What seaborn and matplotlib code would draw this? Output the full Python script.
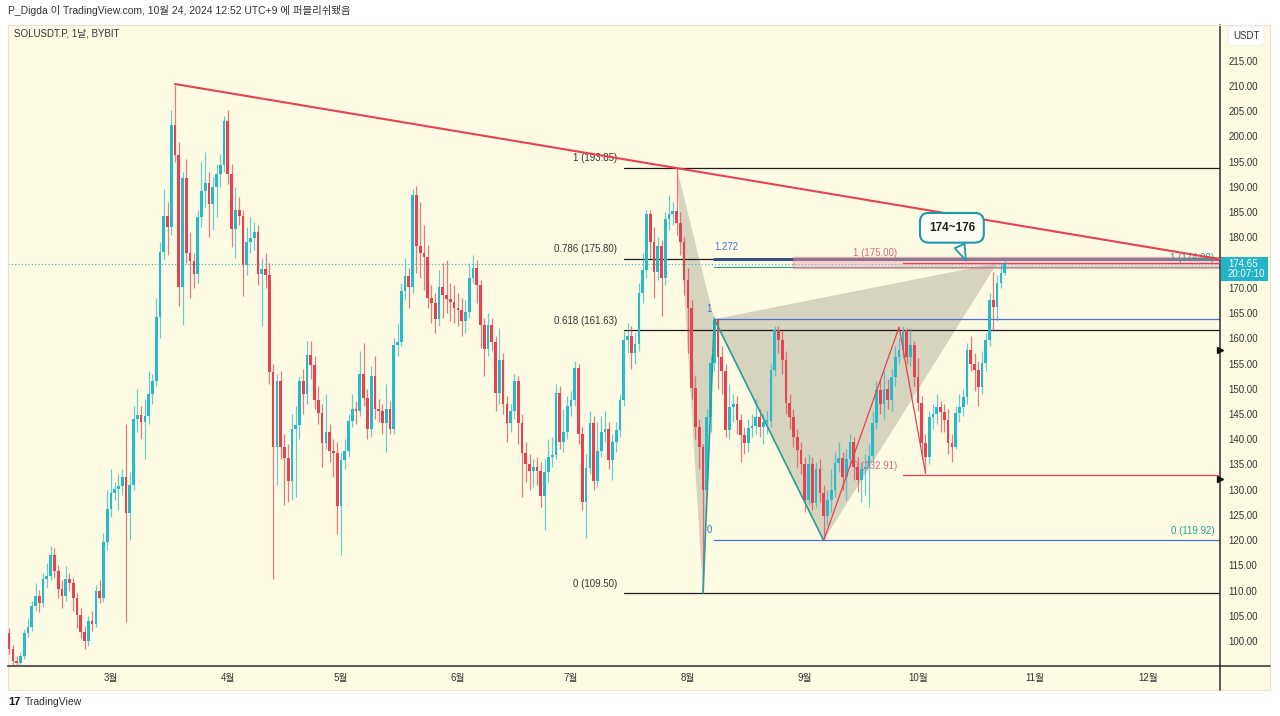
# -----------------------------------------------
# SOLUSDT.P daily chart (TradingView style) - seaborn / matplotlib
# -----------------------------------------------
import numpy as np
import pandas as pd
import matplotlib
matplotlib.use('Agg')
import matplotlib.pyplot as plt
import matplotlib.dates as mdates
from matplotlib.patches import Rectangle, Polygon
from matplotlib.lines import Line2D
from matplotlib.transforms import blended_transform_factory
import seaborn as sns

# -----------------------------------------------
# DATA (daily candles from 2024-02-03 to 2024-10-24)
# -----------------------------------------------
first_open = 101.5

closes = [
    98.5, 96.0, 95.6, 97.0, 101.5, 102.8, 107.0, 108.9, 107.5, 112.3,
    112.8, 117.0, 113.8, 110.4, 109.0, 112.3, 111.5, 108.5, 105.2, 101.8,
    99.9, 103.9, 103.4, 109.9, 108.5, 119.7, 126.1, 129.4, 130.2, 130.8,
    132.6, 125.3, 130.9, 144.0, 144.8, 143.5, 144.6, 149.0, 151.5, 164.2,
    177.2, 184.3, 182.0, 202.2, 196.3, 170.1, 191.8, 176.9, 175.4, 172.7,
    184.0, 189.2, 190.7, 186.6, 189.9, 192.5, 194.4, 203.0, 192.5, 181.7,
    185.4, 184.3, 174.6, 179.1, 179.8, 181.0, 172.7, 173.8, 172.5, 153.3,
    138.4, 151.5, 138.4, 136.2, 131.7, 142.1, 142.9, 151.5, 148.9, 156.7,
    154.8, 147.7, 145.1, 139.2, 141.4, 137.7, 137.3, 126.8, 135.8, 137.7,
    143.6, 145.9, 145.5, 153.0, 148.1, 142.1, 152.6, 145.9, 145.5, 143.2,
    146.0, 142.1, 158.6, 159.3, 169.4, 172.4, 170.1, 188.4, 178.3, 176.9,
    176.1, 167.9, 167.0, 163.8, 170.1, 168.6, 167.8, 167.1, 166.0, 165.6,
    163.4, 165.3, 172.0, 173.9, 170.5, 162.7, 157.8, 162.7, 159.3, 149.2,
    155.6, 147.0, 143.3, 145.5, 151.5, 143.3, 137.3, 135.1, 133.6, 134.4,
    133.6, 128.7, 133.5, 136.5, 136.9, 149.2, 139.5, 141.4, 146.6, 147.7,
    154.1, 141.0, 127.6, 134.3, 143.3, 131.7, 137.7, 141.4, 142.1, 135.8,
    139.5, 141.8, 147.7, 159.7, 160.4, 157.1, 158.9, 169.0, 173.5, 184.7,
    179.1, 173.1, 178.3, 172.0, 183.6, 184.7, 185.2, 182.8, 179.1, 171.6,
    166.0, 150.1, 142.4, 138.5, 129.9, 144.4, 155.1, 163.6, 156.3, 153.6,
    141.8, 146.4, 147.0, 143.8, 140.8, 139.2, 142.2, 142.6, 144.4, 142.4,
    143.4, 143.6, 153.7, 161.6, 159.6, 155.7, 147.2, 144.4, 140.4, 137.8,
    135.1, 127.9, 135.0, 127.3, 134.0, 129.3, 124.7, 127.9, 129.9, 135.3,
    136.2, 132.6, 136.0, 139.4, 134.5, 131.9, 134.0, 134.5, 136.7, 143.2,
    149.8, 147.0, 150.0, 147.8, 152.3, 156.3, 157.7, 161.6, 156.3, 158.7,
    152.3, 147.2, 139.2, 136.5, 144.4, 145.0, 146.4, 145.4, 143.8, 139.2,
    138.5, 145.2, 146.4, 148.4, 157.7, 155.0, 153.8, 150.3, 155.1, 159.7,
    167.6, 166.3, 171.0, 173.0, 174.65,
]

highs = [
    102.5, 99.2, 97.0, 97.8, 102.3, 104.5, 108.0, 111.5, 110.2, 113.5,
    115.5, 118.8, 118.5, 115.0, 112.0, 114.8, 113.5, 112.5, 109.5, 106.5,
    103.0, 105.0, 106.0, 111.0, 112.0, 121.5, 130.0, 134.0, 131.5, 133.0,
    134.0, 143.0, 133.5, 146.5, 150.0, 146.5, 148.0, 153.5, 153.0, 168.0,
    179.0, 189.5, 187.0, 205.3, 210.3, 199.0, 193.0, 195.5, 181.0, 177.0,
    185.5, 195.0, 197.0, 193.0, 192.0, 194.5, 196.5, 204.0, 205.2, 194.5,
    190.0, 188.0, 185.5, 182.0, 184.0, 183.0, 182.5, 176.0, 177.0, 175.0,
    155.0, 153.0, 153.5, 141.0, 139.0, 145.0, 146.5, 152.5, 154.0, 159.5,
    159.5, 156.5, 150.5, 147.0, 149.0, 143.0, 140.0, 139.5, 137.5, 140.0,
    145.0, 149.0, 147.5, 157.5, 159.0, 150.0, 154.5, 156.5, 148.0, 147.0,
    151.0, 147.5, 160.0, 163.0, 171.0, 176.0, 174.0, 189.5, 190.2, 187.0,
    182.5, 178.5, 170.5, 169.0, 173.5, 175.0, 175.5, 171.0, 170.5, 169.0,
    168.0, 167.5, 175.0, 176.5, 175.5, 171.5, 164.0, 165.0, 164.0, 160.5,
    162.0, 157.0, 148.5, 147.0, 153.0, 152.5, 145.0, 139.5, 137.0, 136.0,
    136.5, 135.5, 136.0, 140.0, 140.5, 151.0, 150.5, 146.0, 148.5, 149.5,
    155.5, 155.0, 142.5, 137.0, 145.5, 144.5, 143.5, 144.5, 145.5, 143.5,
    141.0, 143.5, 149.0, 161.5, 163.0, 162.5, 161.0, 171.0, 177.0, 185.5,
    185.5, 182.0, 180.0, 179.5, 185.0, 188.5, 187.0, 193.85, 185.0, 180.0,
    174.0, 167.5, 152.5, 144.0, 139.0, 146.0, 156.5, 164.5, 164.0, 158.5,
    155.0, 151.0, 149.0, 148.5, 145.0, 142.5, 144.0, 145.0, 148.0, 146.0,
    145.0, 145.5, 155.0, 162.5, 162.5, 161.5, 157.5, 149.0, 146.0, 142.0,
    139.5, 136.5, 137.0, 136.5, 135.5, 136.0, 131.0, 130.0, 134.0, 137.5,
    139.5, 137.5, 138.0, 141.0, 140.5, 136.5, 135.5, 137.0, 139.0, 145.5,
    151.5, 152.0, 153.5, 152.0, 154.0, 158.5, 160.0, 162.5, 162.0, 162.0,
    159.5, 156.0, 148.5, 141.0, 145.5, 147.0, 149.0, 147.5, 147.0, 146.0,
    141.0, 146.5, 149.0, 150.0, 159.0, 160.5, 157.0, 155.5, 157.5, 161.0,
    169.0, 173.1, 172.5, 175.0, 176.0,
]

lows = [
    97.5, 95.0, 94.5, 95.0, 96.5, 100.8, 102.0, 106.0, 105.8, 106.8,
    110.5, 112.0, 112.5, 108.5, 106.5, 108.0, 110.0, 106.0, 102.5, 100.5,
    98.5, 99.0, 102.0, 102.8, 107.5, 107.8, 118.0, 124.5, 128.0, 126.0,
    129.0, 103.7, 120.0, 130.0, 141.5, 140.0, 136.0, 143.0, 147.0, 150.5,
    160.0, 175.5, 176.5, 180.5, 195.0, 166.4, 162.7, 175.0, 167.9, 170.0,
    171.0, 182.0, 186.0, 180.0, 181.5, 184.0, 190.0, 193.0, 190.5, 178.0,
    176.0, 182.5, 168.3, 172.5, 177.0, 177.5, 170.5, 162.5, 170.0, 151.0,
    112.3, 131.0, 136.0, 127.0, 127.5, 128.0, 128.5, 140.0, 145.0, 147.0,
    152.0, 146.0, 143.0, 134.5, 138.0, 135.5, 132.5, 121.2, 117.1, 134.0,
    136.5, 142.5, 143.0, 144.5, 146.5, 140.0, 140.5, 144.0, 143.5, 141.0,
    137.5, 141.0, 141.0, 156.5, 158.5, 167.5, 166.0, 169.0, 173.0, 172.0,
    169.5, 166.0, 163.0, 161.0, 162.5, 164.0, 165.0, 163.5, 163.0, 162.5,
    160.5, 161.0, 164.0, 171.0, 167.0, 158.0, 152.5, 156.5, 157.5, 145.5,
    147.0, 145.0, 139.5, 141.5, 144.0, 139.0, 128.5, 131.5, 130.0, 130.5,
    131.0, 126.5, 122.0, 131.5, 134.5, 136.0, 138.0, 137.5, 140.0, 144.5,
    146.5, 139.0, 126.0, 120.5, 133.0, 130.0, 130.5, 136.5, 139.5, 134.0,
    132.0, 137.5, 140.5, 146.5, 157.0, 154.0, 155.0, 157.5, 167.0, 172.0,
    176.0, 168.0, 171.5, 164.5, 170.5, 181.5, 182.5, 180.5, 176.5, 168.5,
    157.0, 148.0, 140.0, 134.0, 109.5, 128.5, 141.5, 153.5, 150.0, 149.0,
    140.5, 140.0, 143.5, 141.0, 135.5, 137.0, 137.5, 140.5, 141.0, 140.5,
    139.0, 141.0, 142.5, 152.5, 157.0, 153.0, 145.0, 142.0, 138.5, 134.5,
    133.0, 125.5, 127.0, 126.0, 126.5, 127.5, 120.0, 123.0, 125.5, 128.5,
    133.5, 130.0, 128.0, 134.5, 132.0, 129.5, 127.5, 129.0, 126.5, 135.5,
    142.0, 145.0, 144.0, 146.0, 145.5, 150.5, 155.0, 156.0, 155.0, 154.5,
    150.5, 145.5, 136.0, 133.3, 135.0, 142.0, 143.0, 141.5, 141.5, 137.0,
    135.4, 138.0, 143.5, 144.5, 147.0, 153.5, 149.5, 146.5, 149.0, 153.5,
    158.5, 161.5, 163.5, 170.0, 172.5,
]

last_price = 174.65

# drawings on the chart
trend_dates = ['2024-03-18', '2024-12-20']
trend_prices = [210.4, 175.7]

fib_start = '2024-07-15'
fib_levels = [193.85, 175.80, 161.63, 109.50]
fib_labels = ['1 (193.85)', '0.786 (175.80)', '0.618 (161.63)', '0 (109.50)']

xabcd_dates = ['2024-07-29', '2024-08-05', '2024-08-08', '2024-09-06', '2024-10-22']
xabcd_prices = [193.85, 109.50, 163.80, 119.92, 174.90]

ext_start = '2024-08-08'
ext_levels = [175.73, 163.80, 119.92]
ext_labels = ['1.272', '1', '0']
teal_levels = [174.08, 119.92]
teal_labels = ['1 (174.08)', '0 (119.92)']

red_fib_start = '2024-09-27'
red_fib_levels = [175.00, 132.91]
red_fib_labels = ['1 (175.00)', '0 (132.91)']

zig_dates = ['2024-09-06', '2024-09-26', '2024-10-03']
zig_prices = [119.92, 162.2, 133.3]

zone_start = '2024-08-29'
zone_prices = [173.9, 176.2]

callout_text = '174~176'
callout_box = ('2024-10-10', 181.9)
callout_tip = ('2024-10-14', 174.9)

alert_prices = [157.7, 132.1]

month_dates = pd.date_range('2024-03-01', '2024-12-01', freq='MS')
month_labels = ['3월', '4월', '5월', '6월', '7월', '8월', '9월', '10월', '11월', '12월']
price_ticks = np.arange(100, 216, 5)

# -----------------------------------------------
# COLOURS / STYLE
# -----------------------------------------------
CREAM = '#fefbe5'
UP = '#27b9cc'
DOWN = '#e4434f'
TREND = '#e8424f'
BLUE = '#4a72d4'
NAVY = '#35527e'
TEAL = '#2a9d96'
GREY = '#969482'

sns.set_theme(style='white')
plt.rcParams['font.family'] = ['Liberation Sans', 'Noto Sans CJK KR', 'DejaVu Sans']

W, H = 1280, 716
fig = plt.figure(figsize=(W / 100, H / 100), dpi=100)
fig.patch.set_facecolor('white')

# cream panel (chart + axes area), drawn behind the axes
fig.patches.append(Rectangle((8 / W, 1 - 690 / H), 1262 / W, 665 / H,
                             transform=fig.transFigure, fc=CREAM,
                             ec='#e6e3d0', lw=0.8, zorder=-10))

ax = fig.add_axes([8 / W, 1 - 666 / H, 1212 / W, 641 / H])
ax.set_zorder(1)
ax.set_facecolor(CREAM)

base = mdates.date2num(pd.Timestamp('2024-02-01'))
ax.set_xlim(base + 1.7, base + 323.1)
ax.set_ylim(95.04, 222.1)


def dnum(d):
    return mdates.date2num(pd.Timestamp(d))


x_end = base + 323.1

# -----------------------------------------------
# CANDLES
# -----------------------------------------------
dates = pd.date_range('2024-02-03', periods=len(closes), freq='D')
df = pd.DataFrame({'date': dates, 'close': closes, 'high': highs, 'low': lows})
df['open'] = [first_open] + closes[:-1]
df['x'] = mdates.date2num(df['date'])
df['high'] = df[['high', 'open', 'close']].max(axis=1)
df['low'] = df[['low', 'open', 'close']].min(axis=1)
up = df['close'] >= df['open']
colors = np.where(up, UP, DOWN)

ax.vlines(df['x'], df['low'], df['high'], colors=colors, lw=0.9, alpha=0.7, zorder=3)
body_bottom = df[['open', 'close']].min(axis=1)
body_h = (df['close'] - df['open']).abs().clip(lower=0.35)
ax.bar(df['x'], body_h, bottom=body_bottom, width=0.72, color=colors,
       linewidth=0, zorder=4)

# current price dotted line
ax.axhline(last_price, color=UP, lw=0.8, ls=(0, (1, 2)), zorder=2)

# -----------------------------------------------
# HARMONIC PATTERN (shaded triangles)
# -----------------------------------------------
px = [dnum(d) for d in xabcd_dates]
py = xabcd_prices
ax.add_patch(Polygon([(px[0], py[0]), (px[1], py[1]), (px[2], py[2])],
                     closed=True, fc=GREY, alpha=0.385, lw=0, zorder=1))
ax.add_patch(Polygon([(px[2], py[2]), (px[3], py[3]), (px[4], py[4])],
                     closed=True, fc=GREY, alpha=0.385, lw=0, zorder=1))
sns.lineplot(x=px[1:4], y=py[1:4], sort=False, color=TEAL, lw=1.2, ax=ax, zorder=5)

# -----------------------------------------------
# FIB RETRACEMENT (black)
# -----------------------------------------------
fs = dnum(fib_start)
for lvl, lab in zip(fib_levels, fib_labels):
    ax.plot([fs, x_end], [lvl, lvl], color='#1e1e1e', lw=0.9, zorder=2)
    ax.annotate(lab, xy=(fs, lvl), xytext=(-5, 3), textcoords='offset points',
                ha='right', va='bottom', fontsize=7, color='#333333')

# teal fib (only the upper line shows, the lower one sits under the blue line)
es = dnum(ext_start)
ax.plot([es, x_end], [teal_levels[0], teal_levels[0]], color=TEAL, lw=0.8, zorder=2)
for lvl, lab in zip(teal_levels, teal_labels):
    ax.annotate(lab, xy=(x_end, lvl), xytext=(-4, 3), textcoords='offset points',
                ha='right', va='bottom', fontsize=7, color=TEAL)

# fib extension (blue)
for lvl, lab in zip(ext_levels, ext_labels):
    lw = 2.2 if lab == '1.272' else 0.9
    col = NAVY if lab == '1.272' else BLUE
    ax.plot([es, x_end], [lvl, lvl], color=col, lw=lw, zorder=2.2)
    if lab == '1.272':
        ax.annotate(lab, xy=(es, lvl), xytext=(0, 5), textcoords='offset points',
                    ha='left', va='bottom', fontsize=7, color=BLUE)
    else:
        ax.annotate(lab, xy=(es, lvl), xytext=(-2, 4), textcoords='offset points',
                    ha='right', va='bottom', fontsize=7, color=BLUE)

# pink target zone
zs = dnum(zone_start)
ax.add_patch(Rectangle((zs, zone_prices[0]), x_end - zs, zone_prices[1] - zone_prices[0],
                       fc='#f5a3b5', alpha=0.45, ec='#e06a7a', lw=0.9, zorder=2.5))

# red fib
rs = dnum(red_fib_start)
for lvl, lab in zip(red_fib_levels, red_fib_labels):
    ax.plot([rs, x_end], [lvl, lvl], color=TREND, lw=0.9, zorder=2.6)
    ax.annotate(lab, xy=(rs, lvl), xytext=(-4, 3), textcoords='offset points',
                ha='right', va='bottom', fontsize=7, color='#e06a7a')

# red zig-zag
sns.lineplot(x=[dnum(d) for d in zig_dates], y=zig_prices, sort=False,
             color=TREND, lw=0.9, ax=ax, zorder=5)

# descending trendline
sns.lineplot(x=[dnum(d) for d in trend_dates], y=trend_prices, sort=False,
             color=TREND, lw=1.5, ax=ax, zorder=6)

# callout
ax.annotate(callout_text,
            xy=(dnum(callout_tip[0]), callout_tip[1]),
            xytext=(dnum(callout_box[0]), callout_box[1]),
            ha='center', va='center', fontsize=8.5, fontweight='bold', color='#222222',
            bbox=dict(boxstyle='round,pad=0.75', fc='#fffef6', ec='#1e9aa8', lw=1.5),
            arrowprops=dict(arrowstyle='wedge,tail_width=0.9,shrink_factor=0.5',
                            fc='#fffef6', ec='#1e9aa8', lw=1.3),
            zorder=8)

# -----------------------------------------------
# AXES
# -----------------------------------------------
ax.set_xticks(mdates.date2num(month_dates))
ax.set_xticklabels(month_labels)
ax.set_yticks(price_ticks)
ax.set_yticklabels([f'{v:.2f}' for v in price_ticks])
ax.yaxis.tick_right()
ax.tick_params(axis='y', length=0, pad=6, labelsize=7, labelcolor='#333333')
ax.tick_params(axis='x', length=0, pad=5, labelsize=7, labelcolor='#333333')
ax.set_xlabel('')
ax.set_ylabel('')
ax.grid(False)
for side in ['top', 'left']:
    ax.spines[side].set_color('#e6e3d0')
    ax.spines[side].set_linewidth(0.8)
for side in ['bottom', 'right']:
    ax.spines[side].set_color('#2a2e39')
    ax.spines[side].set_linewidth(1.1)

# extend axis lines into the price / time scale areas
fig.add_artist(Line2D([1220 / W, 1220 / W], [1 - 690 / H, 1 - 666 / H],
                      transform=fig.transFigure, color='#2a2e39', lw=1.1))
fig.add_artist(Line2D([1220 / W, 1270 / W], [1 - 666 / H, 1 - 666 / H],
                      transform=fig.transFigure, color='#2a2e39', lw=1.1))

# current price label on price scale
tr = blended_transform_factory(ax.transAxes, ax.transData)
ax.add_patch(Rectangle((1.0008, last_price - 17 / 5.045), 0.0388, 24 / 5.045,
                       transform=tr, fc='#22b4c8', ec='none', clip_on=False, zorder=10))
ax.text(1.0066, last_price, f'{last_price:.2f}', transform=tr, ha='left', va='center',
        fontsize=7, color='white', zorder=11, clip_on=False)
ax.text(1.0066, last_price - 10 / 5.045, '20:07:10', transform=tr, ha='left', va='center',
        fontsize=7, color='white', zorder=11, clip_on=False)

# small alert markers on the price scale edge
ax.plot([1.0] * len(alert_prices), alert_prices, transform=tr, ls='none', marker='>',
        ms=4, color='#111111', clip_on=False, zorder=11)

# -----------------------------------------------
# TEXTS
# -----------------------------------------------
fig.text(8 / W, 1 - 11 / H, 'P_Digda 이 TradingView.com, 10월 24, 2024 12:52 UTC+9 에 퍼블리쉬됐음',
         ha='left', va='center', fontsize=7.5, color='#333333')
fig.text(14 / W, 1 - 33 / H, 'SOLUSDT.P, 1날, BYBIT', ha='left', va='center',
         fontsize=7, color='#333333', zorder=5)
fig.text(1246 / W, 1 - 36 / H, 'USDT', ha='center', va='center', fontsize=7,
         color='#333333', zorder=5,
         bbox=dict(boxstyle='round,pad=0.5', fc='white', ec='#eeeeee', lw=0.6))
fig.text(8 / W, 1 - 702 / H, '17', ha='left', va='center', fontsize=8,
         fontweight='heavy', color='#131722')
fig.text(25 / W, 1 - 702 / H, 'TradingView', ha='left', va='center', fontsize=7.5,
         color='#333333')

plt.savefig('out.png', dpi=100)
